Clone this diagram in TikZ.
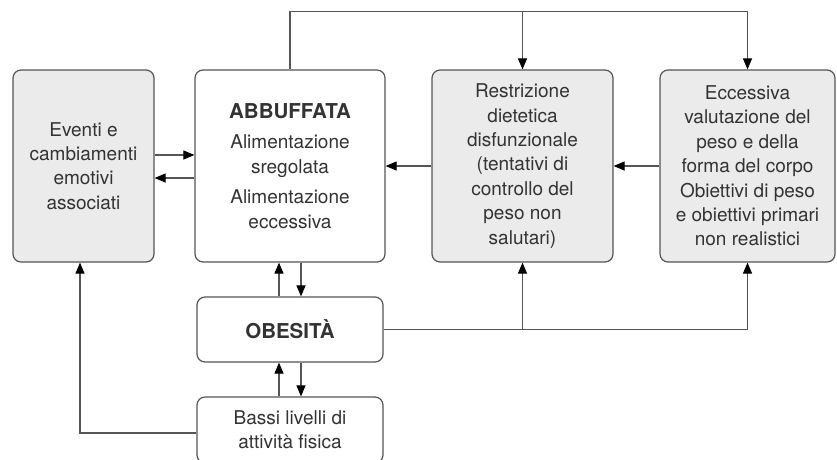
\documentclass[tikz,border=0pt]{standalone}
\usepackage{fontspec}
\setmainfont{TeX Gyre Heros}
\usetikzlibrary{arrows.meta}
\definecolor{boxgray}{HTML}{EBEBEB}
\definecolor{linegray}{HTML}{555555}
\definecolor{txtgray}{HTML}{333333}
\newcommand{\bighead}[1]{{\fontsize{20.5}{24.4}\selectfont\bfseries #1}}

\begin{document}
\begin{tikzpicture}[x=1pt, y=-1pt,
    box/.style={draw=linegray, line width=1.2pt, rounded corners=8pt, fill=white,
      align=center, inner sep=0pt, text=txtgray, font={\fontsize{19}{24.4}\selectfont}},
    greybox/.style={box, fill=boxgray},
    arr/.style={draw=linegray, line width=1.1pt, -{Triangle[length=11pt,width=9pt,color=black]}}]
  \useasboundingbox (0,0) rectangle (837,459);
  % boxes in the top row
  \node[greybox, minimum width=141pt, minimum height=192pt] (eventi) at (83.5,166)
    {Eventi e\\cambiamenti\\emotivi\\associati};
  \node[box, minimum width=190pt, minimum height=192pt] (abbuffata) at (290,166)
    {\bighead{ABBUFFATA}\\[6pt]Alimentazione\\sregolata\\[6pt]Alimentazione\\eccessiva};
  \node[greybox, minimum width=181pt, minimum height=192pt] (restrizione) at (522.5,166)
    {Restrizione\\dietetica\\disfunzionale\\(tentativi di\\controllo del\\peso non\\salutari)};
  \node[greybox, minimum width=175pt, minimum height=192pt] (eccessiva) at (747.5,166)
    {Eccessiva\\valutazione del\\peso e della\\forma del corpo\\Obiettivi di peso\\e obiettivi primari\\non realistici};
  % boxes below
  \node[box, minimum width=186pt, minimum height=65pt] (obesita) at (290,329.5)
    {\bighead{OBESITÀ}};
  \node[box, minimum width=186pt, minimum height=66pt] (bassi) at (290,430)
    {Bassi livelli di\\attività fisica};
  % horizontal links
  \draw[arr] ([yshift=11pt]eventi.east) -- ([yshift=11pt]abbuffata.west);
  \draw[arr] ([yshift=-12pt]abbuffata.west) -- ([yshift=-12pt]eventi.east);
  \draw[arr] (restrizione.west) -- (abbuffata.east);
  \draw[arr] (eccessiva.west) -- (restrizione.east);
  % loop over the top
  \coordinate (topjoin) at ([yshift=58pt]abbuffata.north);
  \draw[arr] (abbuffata.north) -- (topjoin) -| (eccessiva.north);
  \draw[arr] (topjoin -| restrizione.north) -- (restrizione.north);
  % obesita links
  \draw[arr] ([xshift=-11pt]obesita.north) -- ([xshift=-11pt]abbuffata.south);
  \draw[arr] ([xshift=11pt]abbuffata.south) -- ([xshift=11pt]obesita.north);
  \draw[arr] (obesita.east) -| (eccessiva.south);
  \draw[arr] (obesita.east -| restrizione.south) -- (restrizione.south);
  % bassi links
  \draw[arr] ([xshift=-11pt]bassi.north) -- ([xshift=-11pt]obesita.south);
  \draw[arr] ([xshift=11pt]obesita.south) -- ([xshift=11pt]bassi.north);
  \draw[arr] ([yshift=-3pt]bassi.west) -| ([xshift=-3.5pt]eventi.south);
\end{tikzpicture}
\end{document}
